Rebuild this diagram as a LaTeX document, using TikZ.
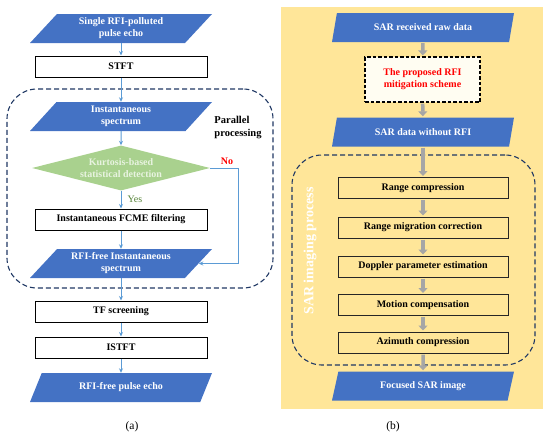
\documentclass[tikz,border=0pt]{standalone}
\usepackage{fontspec}
\setmainfont{Liberation Serif}
\usetikzlibrary{shapes.geometric,arrows.meta,calc}
\definecolor{pblue}{HTML}{4472C4}
\definecolor{lblue}{HTML}{5B9BD5}
\definecolor{dgreen}{HTML}{A9D18E}
\definecolor{tgreen}{HTML}{E8F3E0}
\definecolor{ygreen}{HTML}{548235}
\definecolor{navy}{HTML}{203864}
\definecolor{byellow}{HTML}{FFE699}
\definecolor{cream}{HTML}{FFFDF2}
\definecolor{agray}{HTML}{A6A6A6}
\begin{document}
\begin{tikzpicture}[x=1pt,y=-1pt,
  lab/.style={font=\bfseries\fontsize{10}{12}\selectfont},
  paraA/.style={trapezium, trapezium left angle=38, trapezium right angle=142,
    trapezium stretches body, minimum width=182, minimum height=29, inner sep=0pt,
    fill=pblue, text=white, align=center, lab},
  paraB/.style={paraA, trapezium left angle=55, trapezium right angle=125},
  boxA/.style={draw=black, line width=1pt, minimum width=172, minimum height=21, inner sep=0pt, lab},
  boxB/.style={boxA, fill=byellow, draw=black!85, minimum width=170},
  container/.style={draw=navy, line width=1.1pt, dash pattern=on 5pt off 3pt, rounded corners=30pt, inner sep=0pt},
  bl/.style={draw=lblue, line width=1pt, -{Stealth[length=4.5pt,width=4pt]}},
  gar/.style={draw=agray, line width=3.5pt, -{Triangle[length=5pt,width=9pt]}, shorten <=1pt, shorten >=1pt},
]
\useasboundingbox (0,0) rectangle (550,439);
% ---------- panel (a) ----------
\node[container, minimum width=266, minimum height=199] (grpA) at (140,188.5) {};
\node[paraA] (a1) at (121,28.5) {Single RFI-polluted\\pulse echo};
\node[boxA] (a2) at (121,66.5) {STFT};
\node[paraA] (a3) at (121,116.5) {Instantaneous\\spectrum};
\node[diamond, aspect=3.9, minimum width=178, minimum height=45, inner sep=0pt, fill=dgreen, text=tgreen, align=center, lab] (a4) at (121,168) {Kurtosis-based\\statistical detection};
\node[boxA] (a5) at (121,219.5) {Instantaneous FCME filtering};
\node[paraA] (a6) at (121,263.5) {RFI-free Instantaneous\\spectrum};
\node[boxA] (a7) at (121,311.5) {TF screening};
\node[boxA] (a8) at (121,347.5) {ISTFT};
\node[paraA] (a9) at (121,387.5) {RFI-free pulse echo};
\node[font=\bfseries\fontsize{10.5}{13}\selectfont, align=left] (pp) at (238,128) {Parallel\\processing};
\node[lab, text=red] (no) at (227,161) {No};
\node[text=ygreen, font=\fontsize{10}{12}\selectfont] (yes) at (135,199) {Yes};
\node[font=\fontsize{11.5}{13}\selectfont] (capa) at (132,427) {(a)};
\draw[bl] (a1) -- (a2);
\draw[bl] (a2) -- (a3);
\draw[bl] (a3) -- (a4);
\draw[bl] (a4) -- (a5);
\draw[bl] (a5) -- (a6);
\draw[bl] (a6) -- (a7);
\draw[bl] (a7) -- (a8);
\draw[bl] (a8) -- (a9);
\draw[bl] (a4.east) -- ++(28,0) |- (a6.east);
% ---------- panel (b) ----------
\node[fill=byellow, minimum width=262, minimum height=402, inner sep=0pt] (bgB) at (412,208) {};
\node[container, minimum width=243, minimum height=210] (grpB) at (413.5,260) {};
\node[rotate=90, text=white, font=\bfseries\fontsize{14}{16}\selectfont] (sip) at (310,251) {SAR imaging process};
\node[paraB] (b1) at (423,27.5) {SAR received raw data};
\node[draw=black, line width=1.1pt, dash pattern=on 3.5pt off 2pt, fill=cream, minimum width=115, minimum height=45, inner sep=0pt, align=center, lab, text=red] (b2) at (422.5,79.5) {The proposed RFI\\mitigation scheme};
\node[paraB] (b3) at (423,132) {SAR data without RFI};
\node[boxB] (b4) at (423,188) {Range compression};
\node[boxB] (b5) at (423,227.5) {Range migration correction};
\node[boxB] (b6) at (423,266.5) {Doppler parameter estimation};
\node[boxB] (b7) at (423,305) {Motion compensation};
\node[boxB] (b8) at (423,342.5) {Azimuth compression};
\node[paraB] (b9) at (423,386) {Focused SAR image};
\node[font=\fontsize{11.5}{13}\selectfont] (capb) at (393,427) {(b)};
\draw[gar] (b1) -- (b2);
\draw[gar] (b2) -- (b3);
\draw[gar] (b3) -- (b4);
\draw[gar] (b4) -- (b5);
\draw[gar] (b5) -- (b6);
\draw[gar] (b6) -- (b7);
\draw[gar] (b7) -- (b8);
\draw[gar] (b8) -- (b9);
\end{tikzpicture}
\end{document}
